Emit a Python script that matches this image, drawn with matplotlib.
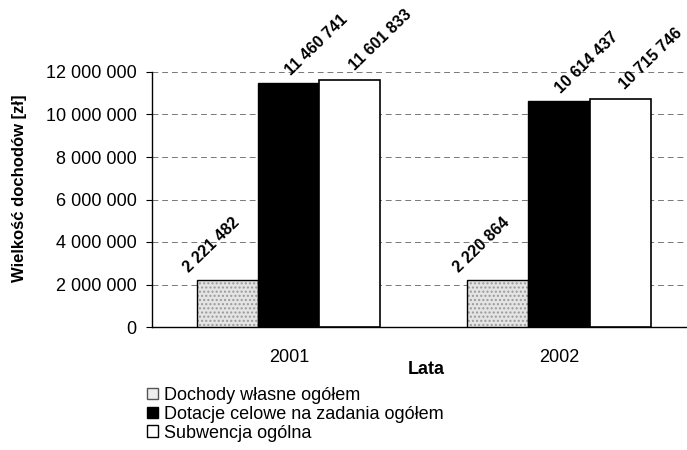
import matplotlib
matplotlib.use("Agg")
import matplotlib.pyplot as plt
from matplotlib.patches import Patch
import numpy as np

plt.rcParams['font.family'] = ['Liberation Sans', 'DejaVu Sans']

years = ["2001", "2002"]
series_names = ["Dochody własne ogółem",
                "Dotacje celowe na zadania ogółem",
                "Subwencja ogólna"]
dochody = [2221482, 2220864]
dotacje = [11460741, 10614437]
subwencja = [11601833, 10715746]
value_labels = [["2 221 482", "2 220 864"],
                ["11 460 741", "10 614 437"],
                ["11 601 833", "10 715 746"]]
yticks = [0, 2000000, 4000000, 6000000, 8000000, 10000000, 12000000]
ytick_labels = ["0", "2 000 000", "4 000 000", "6 000 000", "8 000 000",
                "10 000 000", "12 000 000"]

fig = plt.figure(figsize=(6.87, 4.5), dpi=100)
ax = fig.add_axes([152/687, 1-327/450, 1-152/687, (327-72)/450])

x = np.arange(len(years))
w = 0.226
series = [dochody, dotacje, subwencja]
offsets = [-w, 0, w]

# stippled gray bars
ax.bar(x + offsets[0], dochody, w, color='#e4e4e4', edgecolor='#9a9a9a',
       hatch='....', linewidth=0, zorder=3)
ax.bar(x + offsets[0], dochody, w, fill=False, edgecolor='black',
       linewidth=1.0, zorder=4)
ax.bar(x + offsets[1], dotacje, w, color='black', edgecolor='black',
       linewidth=1.0, zorder=3)
ax.bar(x + offsets[2], subwencja, w, color='white', edgecolor='black',
       linewidth=1.2, zorder=3)

label_offsets = [(-11.5, 25), (20, 28), (22, 29)]
for si, vals in enumerate(series):
    for i, v in enumerate(vals):
        ax.annotate(value_labels[si][i], xy=(x[i] + offsets[si], v),
                    xytext=label_offsets[si], textcoords='offset points',
                    rotation=44, rotation_mode='anchor', ha='center',
                    va='center', fontsize=11.5, fontweight='bold',
                    annotation_clip=False, zorder=6)

ax.set_xlim(-0.507, 1.474)
ax.set_ylim(0, 12000000)
ax.set_yticks(yticks)
ax.set_yticklabels(ytick_labels, fontsize=13)
ax.set_xticks(x)
ax.set_xticklabels(years, fontsize=13)
ax.tick_params(axis='x', length=0, pad=16)
ax.tick_params(axis='y', length=4, width=0.8, pad=7)

ax.yaxis.grid(True, linestyle=(0, (6, 4)), color='#777777', linewidth=0.7,
              zorder=0)
ax.set_axisbelow(True)
for s in ['top', 'right']:
    ax.spines[s].set_visible(False)
ax.spines['left'].set_linewidth(1.0)
ax.spines['bottom'].set_linewidth(1.0)

fig.text(20/687, 1-188/450, "Wielkość dochodów [zł]", fontsize=12,
         fontweight='bold', rotation=90, ha='center', va='center')
fig.text(426/687, 1-370/450, "Lata", fontsize=13, fontweight='bold',
         ha='center', va='center')

handles = [Patch(facecolor='#eeeeee', edgecolor='#555555', linewidth=1.0),
           Patch(facecolor='black', edgecolor='black', linewidth=1.0),
           Patch(facecolor='white', edgecolor='black', linewidth=1.0)]
fig.legend(handles, series_names, loc='upper left',
           bbox_to_anchor=(147/687, 1-387/450), frameon=False,
           fontsize=13, handlelength=0.62, handleheight=0.62,
           handletextpad=0.3, labelspacing=0.1, borderpad=0, borderaxespad=0)

fig.savefig("out.png", dpi=100)
